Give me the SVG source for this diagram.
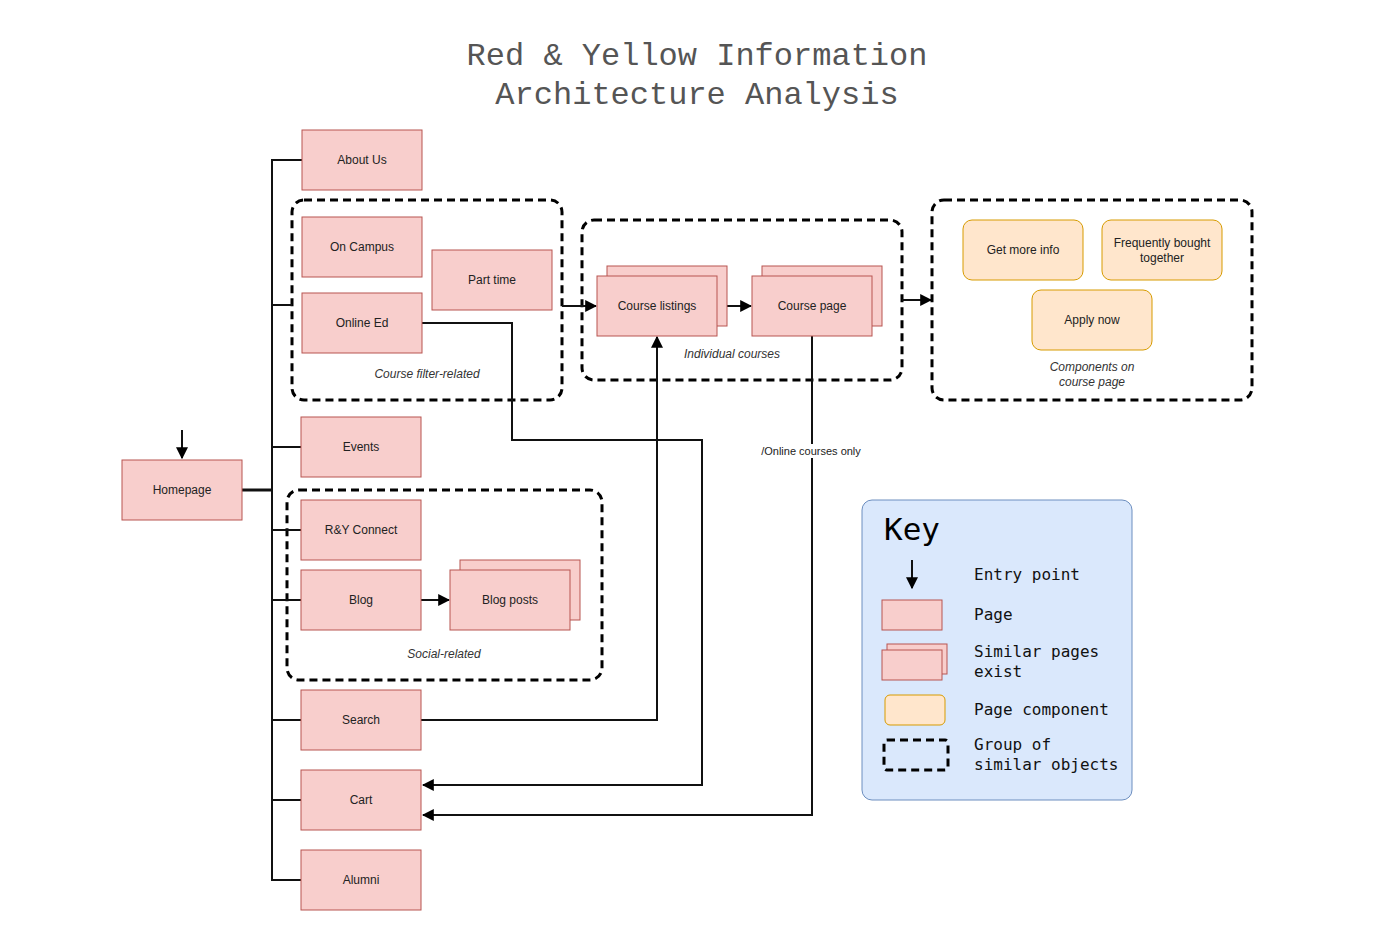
<svg xmlns="http://www.w3.org/2000/svg" width="1382" height="943" viewBox="0 0 1382 943">
<style>
.page{fill:#f8cecc;stroke:#b85450;stroke-width:1}
.comp{fill:#ffe6cc;stroke:#d79b00;stroke-width:1}
.grp{fill:none;stroke:#000;stroke-width:3;stroke-dasharray:8 5}
.t{font-family:"Liberation Sans",Arial,sans-serif;font-size:12px;fill:#222;text-anchor:middle;dominant-baseline:central}
.gl{font-family:"Liberation Sans",Arial,sans-serif;font-size:12px;font-style:italic;fill:#333;text-anchor:middle;dominant-baseline:central}
.title{font-family:"Liberation Mono","Courier New",monospace;font-size:32px;fill:#555;text-anchor:middle}
.kt{font-family:"DejaVu Sans Mono",monospace;font-size:16px;fill:#111}
.c{fill:none;stroke:#111;stroke-width:2}
</style>
<defs>
<marker id="ah2" viewBox="0 0 10 10" refX="9" refY="5" markerWidth="12" markerHeight="12" markerUnits="userSpaceOnUse" orient="auto">
<path d="M0,0 L10,5 L0,10 z" fill="#000"/>
</marker>
</defs>
<rect width="1382" height="943" fill="#fff"/>
<text class="title" x="697" y="65">Red &amp; Yellow Information</text>
<text class="title" x="697" y="104">Architecture Analysis</text>

<g id="groups">
<rect id="grp-filter" class="grp" x="292" y="200" width="270" height="200" rx="12"/>
<rect id="grp-courses" class="grp" x="582" y="220" width="320" height="160" rx="12"/>
<rect id="grp-components" class="grp" x="932" y="200" width="320" height="200" rx="12"/>
<rect id="grp-social" class="grp" x="287" y="490" width="315" height="190" rx="12"/>
<text class="gl" x="427" y="374">Course filter-related</text>
<text class="gl" x="732" y="354">Individual courses</text>
<text class="gl" x="444" y="654">Social-related</text>
<text class="gl" x="1092" y="367">Components on</text>
<text class="gl" x="1092" y="382">course page</text>
</g>

<g id="connectors">
<path class="c" d="M182,430 V458" marker-end="url(#ah2)"/>
<path class="c" d="M242,490 H272" style="stroke-width:3"/>
<path class="c" d="M302,160 H272 V880 H301"/>
<path class="c" d="M272,305 H292"/>
<path class="c" d="M272,447 H301"/>
<path class="c" d="M272,530 H301"/>
<path class="c" d="M272,600 H301"/>
<path class="c" d="M272,720 H301"/>
<path class="c" d="M272,800 H301"/>
<path class="c" d="M562,306 H596" marker-end="url(#ah2)"/>
<path class="c" d="M717,306 H751" marker-end="url(#ah2)"/>
<path class="c" d="M902,300 H931" marker-end="url(#ah2)"/>
<path class="c" d="M421,600 H449" marker-end="url(#ah2)"/>
<path class="c" d="M422,323 H512 V440 H702 V785 H423" marker-end="url(#ah2)"/>
<path class="c" d="M421,720 H657 V337" marker-end="url(#ah2)"/>
<path class="c" d="M812,336 V815 H423" marker-end="url(#ah2)"/>
<rect x="758" y="444" width="106" height="14" fill="#fff"/>
<text class="t" x="811" y="451" style="font-size:11px">/Online courses only</text>
</g>

<g id="homepage"><rect class="page" x="122" y="460" width="120" height="60"/><text class="t" x="182" y="490">Homepage</text></g>
<g id="about"><rect class="page" x="302" y="130" width="120" height="60"/><text class="t" x="362" y="160">About Us</text></g>
<g id="oncampus"><rect class="page" x="302" y="217" width="120" height="60"/><text class="t" x="362" y="247">On Campus</text></g>
<g id="onlineed"><rect class="page" x="302" y="293" width="120" height="60"/><text class="t" x="362" y="323">Online Ed</text></g>
<g id="parttime"><rect class="page" x="432" y="250" width="120" height="60"/><text class="t" x="492" y="280">Part time</text></g>
<g id="events"><rect class="page" x="301" y="417" width="120" height="60"/><text class="t" x="361" y="447">Events</text></g>
<g id="ryconnect"><rect class="page" x="301" y="500" width="120" height="60"/><text class="t" x="361" y="530">R&amp;Y Connect</text></g>
<g id="blog"><rect class="page" x="301" y="570" width="120" height="60"/><text class="t" x="361" y="600">Blog</text></g>
<g id="blogposts"><rect class="page" x="460" y="560" width="120" height="60"/><rect class="page" x="450" y="570" width="120" height="60"/><text class="t" x="510" y="600">Blog posts</text></g>
<g id="search"><rect class="page" x="301" y="690" width="120" height="60"/><text class="t" x="361" y="720">Search</text></g>
<g id="cart"><rect class="page" x="301" y="770" width="120" height="60"/><text class="t" x="361" y="800">Cart</text></g>
<g id="alumni"><rect class="page" x="301" y="850" width="120" height="60"/><text class="t" x="361" y="880">Alumni</text></g>
<g id="courselistings"><rect class="page" x="607" y="266" width="120" height="60"/><rect class="page" x="597" y="276" width="120" height="60"/><text class="t" x="657" y="306">Course listings</text></g>
<g id="coursepage"><rect class="page" x="762" y="266" width="120" height="60"/><rect class="page" x="752" y="276" width="120" height="60"/><text class="t" x="812" y="306">Course page</text></g>
<g id="getmoreinfo"><rect class="comp" x="963" y="220" width="120" height="60" rx="9"/><text class="t" x="1023" y="250">Get more info</text></g>
<g id="freqbought"><rect class="comp" x="1102" y="220" width="120" height="60" rx="9"/><text class="t" x="1162" y="243">Frequently bought</text><text class="t" x="1162" y="258">together</text></g>
<g id="applynow"><rect class="comp" x="1032" y="290" width="120" height="60" rx="9"/><text class="t" x="1092" y="320">Apply now</text></g>

<g id="key">
<rect x="862" y="500" width="270" height="300" rx="10" fill="#dae8fc" stroke="#6c8ebf" stroke-width="1"/>
<text x="884" y="540" style="font-family:'DejaVu Sans Mono',monospace;font-size:31px;fill:#000">Key</text>
<path class="c" d="M912,560 V588" marker-end="url(#ah2)"/>
<rect class="page" x="882" y="600" width="60" height="30"/>
<rect class="page" x="887" y="644" width="60" height="30"/>
<rect class="page" x="882" y="650" width="60" height="30"/>
<rect class="comp" x="885" y="695" width="60" height="30" rx="5"/>
<rect class="grp" x="884" y="740" width="64" height="30" rx="3"/>
<text class="kt" x="974" y="580">Entry point</text>
<text class="kt" x="974" y="620">Page</text>
<text class="kt" x="974" y="657">Similar pages</text>
<text class="kt" x="974" y="677">exist</text>
<text class="kt" x="974" y="715">Page component</text>
<text class="kt" x="974" y="750">Group of</text>
<text class="kt" x="974" y="770">similar objects</text>
</g>
</svg>
